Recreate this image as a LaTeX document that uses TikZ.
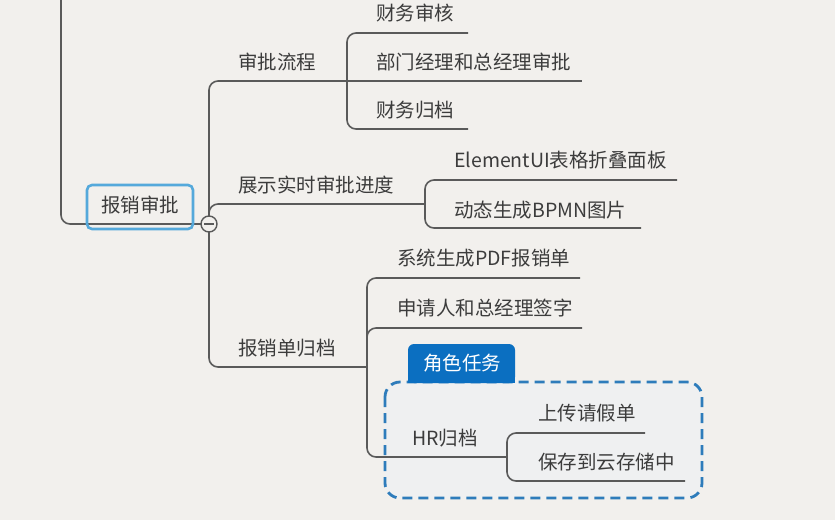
\documentclass[tikz,border=0pt]{standalone}
\usepackage{fontspec}
\setmainfont{Noto Sans CJK SC}
\definecolor{bg}{HTML}{F2F0ED}
\definecolor{ln}{HTML}{5A5A5A}
\definecolor{txt}{HTML}{3C3C3C}
\definecolor{selblue}{HTML}{55A9DB}
\definecolor{dashblue}{HTML}{2E7CBB}
\definecolor{tabblue}{HTML}{0B6FC1}
\definecolor{boxfill}{HTML}{EFF0F1}
\tikzset{
  lbl/.style={anchor=base west, inner sep=0pt, text=txt, font=\fontsize{19.5}{22}\selectfont},
  conn/.style={draw=ln, line width=1.6pt, rounded corners=9pt},
}
\begin{document}
\begin{tikzpicture}[x=1pt,y=-1pt]
\useasboundingbox (0,0) rectangle (835,520);
\fill[bg] (0,0) rectangle (835,520);

% dashed group fill
\fill[boxfill, rounded corners=15pt] (385,382) rectangle (702,498);

% named points
\coordinate (top) at (61,0);
\coordinate (c) at (209,224);
\coordinate (J1) at (347,81);
\coordinate (J2) at (425,204);
\coordinate (J3) at (367,367);
\coordinate (J4) at (507,457);

% text nodes
\node[lbl] (sp) at (238,69) {审批流程};
\node[lbl] (zs) at (238,192) {展示实时审批进度};
\node[lbl] (gd) at (238,355) {报销单归档};
\node[lbl] (cw1) at (376,20) {财务审核};
\node[lbl] (bm) at (376,69) {部门经理和总经理审批};
\node[lbl] (cw2) at (376,117) {财务归档};
\node[lbl] (el) at (454,167) {ElementUI表格折叠面板};
\node[lbl] (dt) at (454,217) {动态生成BPMN图片};
\node[lbl] (pdf) at (397,265) {系统生成PDF报销单};
\node[lbl] (sq) at (397,315) {申请人和总经理签字};
\node[lbl] (hr) at (412,445) {HR归档};
\node[lbl] (sc) at (538,420) {上传请假单};
\node[lbl] (bc) at (538,469) {保存到云存储中};

% end points of underlines
\coordinate (cw1e) at (468,33);
\coordinate (bme) at (582,81);
\coordinate (cw2e) at (468,129);
\coordinate (ele) at (677,180);
\coordinate (dte) at (641,228);
\coordinate (pdfe) at (580,278);
\coordinate (sqe) at (582,328);
\coordinate (sce) at (645,433);
\coordinate (bce) at (685,481);

% connectors
\draw[conn] (top) -- (61,224) -- ([xshift=-8pt]c);
\draw[conn] ([yshift=-8pt]c) -- (209,81) -- (J1);
\draw[conn] ([yshift=-8pt]c) -- (209,204) -- (J2);
\draw[conn] ([yshift=8pt]c) -- (209,367) -- (J3);

\draw[conn] (J1) -- (347,33) -- (cw1e);
\draw[conn] (J1) -- (bme);
\draw[conn] (J1) -- (347,129) -- (cw2e);

\draw[conn] (J2) -- (425,180) -- (ele);
\draw[conn] (J2) -- (425,228) -- (dte);

\draw[conn] (J3) -- (367,278) -- (pdfe);
\draw[conn] (J3) -- (367,328) -- (sqe);
\draw[conn] (J3) -- (367,457) -- (J4);

\draw[conn] (J4) -- (507,433) -- (sce);
\draw[conn] (J4) -- (507,481) -- (bce);

% root box
\node[draw=selblue, line width=2.6pt, rounded corners=5pt, minimum width=106pt, minimum height=44pt, inner sep=0pt] (root) at (140,207) {};
\node[lbl, anchor=base] (roott) at (140,212) {报销审批};

% collapse circle
\node[circle, draw=ln, fill=bg, line width=1.4pt, minimum size=16pt, inner sep=0pt] (col) at (c) {};
\draw[ln, line width=1.4pt] ([xshift=-5pt]col.center) -- ([xshift=5pt]col.center);

% dashed group border
\draw[dashblue, line width=2.8pt, dash pattern=on 10pt off 6pt, rounded corners=15pt] (385,382) rectangle (702,498);

% tab
\path[fill=tabblue, rounded corners=6pt] (408,383) -- (408,344) -- (515,344) -- (515,383) -- cycle;
\fill[tabblue] (408,372) rectangle (515,383);
\node[lbl, anchor=base, text=white] (tab) at (462,370) {角色任务};
\end{tikzpicture}
\end{document}
